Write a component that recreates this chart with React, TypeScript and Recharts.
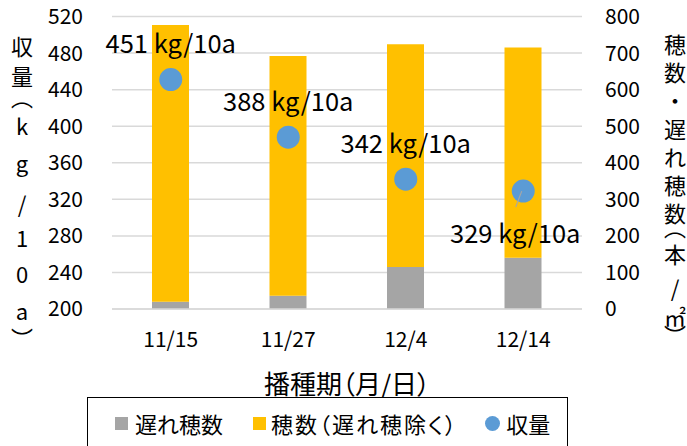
import React from 'react';
import { ComposedChart, Bar, Line, XAxis, YAxis, CartesianGrid, Legend, LabelList } from 'recharts';

const categories = ['11/15', '11/27', '12/4', '12/14'];
const lateHeads = [20, 36, 115, 140];
const mainHeads = [757, 656, 609, 575];
const yieldKg = [451, 388, 342, 329];
const leftTicks = [200, 240, 280, 320, 360, 400, 440, 480, 520];
const rightTicks = [0, 100, 200, 300, 400, 500, 600, 700, 800];

const data = categories.map((c, i) => ({ cat: c, late: lateHeads[i], main: mainHeads[i], yld: yieldKg[i] }));

const FONT = '"Noto Sans CJK JP", "Noto Sans", sans-serif';
const GRAY = '#a5a5a5';
const YELLOW = '#ffc000';
const BLUE = '#5b9bd5';

const leftTitle = ['収', '量', '︵', 'k', 'g', '/', '1', '0', 'a', '︶'];
const leftTitleY = [45, 75, 96, 125, 162, 203, 237, 273, 310, 337];
const rightTitle = ['穂', '数', '・', '遅', 'れ', '穂', '数', '︵', '本', '/', '㎡', '︶'];
const rightTitleY = [43, 71, 99, 128, 156, 184, 212, 226, 253, 287, 316, 334];

const VerticalTitle = ({ chars, ys, x, fontSize }: { chars: string[]; ys: number[]; x: number; fontSize: number }) => (
  <g>
    {chars.map((ch, i) => (
      <text key={i} x={x} y={ys[i]} textAnchor="middle" dominantBaseline="central" fontSize={fontSize} fill="#000" fontFamily={FONT}>
        {ch}
      </text>
    ))}
  </g>
);

const YieldLabel = (props: any) => {
  const { x, y, value, index } = props;
  const text = `${value} kg/10a`;
  if (index === 3) {
    return (
      <g>
        <line x1={x - 1.5} y1={y} x2={x - 7.5} y2={y + 16} stroke="#a6a6a6" strokeWidth={1.2} />
        <text x={x - 8} y={y + 40} textAnchor="middle" dominantBaseline="central" fontSize={25.5} fill="#000" fontFamily={FONT}>
          {text}
        </text>
      </g>
    );
  }
  return (
    <text x={x} y={y - 38} textAnchor="middle" dominantBaseline="central" fontSize={25.5} fill="#000" fontFamily={FONT}>
      {text}
    </text>
  );
};

const LegendBox = () => (
  <div
    style={{
      width: 481,
      height: 70,
      boxSizing: 'border-box',
      border: '1.5px solid #000',
      fontFamily: FONT,
      fontSize: 22,
      color: '#000',
      display: 'flex',
      alignItems: 'center',
      paddingLeft: 27,
      paddingBottom: 18,
      background: '#fff',
    }}
  >
    <span style={{ width: 13, height: 13, background: GRAY, display: 'inline-block', marginRight: 7 }} />
    <span style={{ marginRight: 30 }}>遅れ穂数</span>
    <span style={{ width: 13, height: 13, background: YELLOW, display: 'inline-block', marginRight: 5 }} />
    <span style={{ marginRight: 27, fontFeatureSettings: '"palt"', letterSpacing: 2 }}>穂数（遅れ穂除く）</span>
    <span style={{ width: 15, height: 15, borderRadius: '50%', background: BLUE, display: 'inline-block', marginRight: 6 }} />
    <span>収量</span>
  </div>
);

export default function App() {
  return (
    <div style={{ position: 'absolute', left: 0, top: 0, width: 687, height: 446, overflow: 'hidden', background: '#fff' }}>
      <ComposedChart width={687} height={446} data={data} margin={{ top: 16.5, right: 0, left: 0, bottom: 77 }} style={{ fontFamily: FONT }}>
        <CartesianGrid vertical={false} stroke="#d9d9d9" strokeWidth={1.5} yAxisId="left" />
        <XAxis
          dataKey="cat"
          height={60}
          axisLine={{ stroke: '#d9d9d9', strokeWidth: 1.5 }}
          tickLine={false}
          tickSize={0}
          tickMargin={23}
          tick={{ fontSize: 21, fill: '#000', fontFamily: FONT }}
          label={{
            content: (p: any) => {
              const vb = p.viewBox;
              return (
                <text x={vb.x + vb.width / 2} y={382} textAnchor="middle" dominantBaseline="central" fontSize={26} fill="#000" fontFamily={FONT} style={{ fontFeatureSettings: '"palt"' }}>
                  播種期（月/日）
                </text>
              );
            },
          }}
        />
        <YAxis
          yAxisId="left"
          domain={[200, 520]}
          ticks={leftTicks}
          width={112}
          axisLine={false}
          tickLine={false}
          tickSize={0}
          tickMargin={29}
          tick={{ fontSize: 21, fill: '#000', fontFamily: FONT }}
          label={{ content: () => <VerticalTitle chars={leftTitle} ys={leftTitleY} x={22} fontSize={22} /> }}
        />
        <YAxis
          yAxisId="right"
          orientation="right"
          domain={[0, 800]}
          ticks={rightTicks}
          width={105}
          axisLine={false}
          tickLine={false}
          tickSize={0}
          tickMargin={23}
          tick={{ fontSize: 21, fill: '#000', fontFamily: FONT }}
          label={{ content: () => <VerticalTitle chars={rightTitle} ys={rightTitleY} x={675} fontSize={22} /> }}
        />
        <Bar yAxisId="right" dataKey="late" stackId="a" fill={GRAY} barSize={37} isAnimationActive={false} />
        <Bar yAxisId="right" dataKey="main" stackId="a" fill={YELLOW} barSize={37} isAnimationActive={false} />
        <Line
          yAxisId="left"
          dataKey="yld"
          stroke="none"
          strokeWidth={0}
          dot={{ r: 11.5, fill: BLUE, stroke: 'none', strokeWidth: 0 }}
          activeDot={false}
          isAnimationActive={false}
        >
          <LabelList dataKey="yld" content={YieldLabel} />
        </Line>
        <Legend
          layout="horizontal"
          verticalAlign="middle"
          align="center"
          content={() => <LegendBox />}
          wrapperStyle={{ left: 87, top: 397, width: 481, height: 70 }}
        />
      </ComposedChart>
    </div>
  );
}
